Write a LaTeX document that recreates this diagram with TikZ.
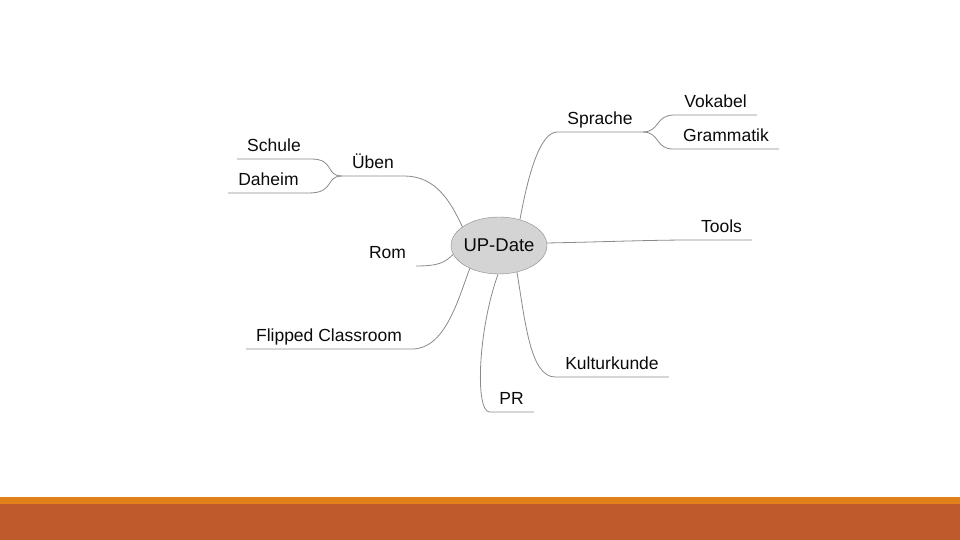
\documentclass[tikz,border=0pt]{standalone}
\usepackage{fontspec}
\setmainfont{Liberation Sans}
\usetikzlibrary{shapes.geometric}

\definecolor{barorange}{HTML}{E08019}
\definecolor{barbrown}{HTML}{BE5A2C}
\definecolor{linegray}{HTML}{8A8A8A}
\definecolor{hubgray}{HTML}{D4D4D4}
\definecolor{inkblack}{HTML}{0A0A0A}

\begin{document}
\begin{tikzpicture}[x=1pt, y=-1pt]
  \tikzstyle{hub} = [ellipse, draw=linegray, fill=hubgray, minimum width=96pt, minimum height=57pt, inner xsep=-4pt, inner ysep=0pt, text=inkblack, font=\fontsize{18.5}{21}\selectfont]
  \tikzstyle{topic} = [anchor=south, inner xsep=10pt, inner ysep=7pt, text depth=0pt, text=inkblack, font=\fontsize{17.5}{20}\selectfont]
  \tikzstyle{branch} = [draw=linegray, line width=0.8pt]

  \useasboundingbox (0,0) rectangle (960,540);

  %%%%%%%%%%%%%%%%%%%%%%%%%%%%%%
  %% bottom bar
  %%%%%%%%%%%%%%%%%%%%%%%%%%%%%%
  \fill[barorange] (0,497) rectangle (960,504);
  \fill[barbrown] (0,504) rectangle (960,540);

  %%%%%%%%%%%%%%%%%%%%%%%%%%%%%%
  %% the mind map
  %%%%%%%%%%%%%%%%%%%%%%%%%%%%%%
  \node[hub] (date) at (499,245.5) {UP-Date};

  \node[topic] (uben) at (373,176) {Üben};
  \node[topic] (schule) at (274,159) {Schule};
  \node[topic] (daheim) at (268.5,193) {Daheim};
  \node[topic] (rom) at (387.5,266) {Rom};
  \node[topic] (flipped) at (329,349) {Flipped Classroom};
  \node[topic] (pr) at (511.5,412) {PR};
  \node[topic] (kultur) at (612,377) {Kulturkunde};
  \node[topic] (tools) at (721.5,240) {Tools};
  \node[topic] (sprache) at (600,132) {Sprache};
  \node[topic] (vokabel) at (715.5,115) {Vokabel};
  \node[topic] (grammatik) at (726,149) {Grammatik};

  % left side
  \draw[branch] (date.153) .. controls (450,200) and (435,176) .. (uben.south east) -- (uben.south west);
  \draw[branch] (uben.south west) .. controls (325,176) and (335,159) .. (schule.south east) -- (schule.south west);
  \draw[branch] (uben.south west) .. controls (325,176) and (335,193) .. (daheim.south east) -- (daheim.south west);
  \draw[branch] (date.191) .. controls (445,262) and (440,266) .. (rom.south east);
  \draw[branch] (date.218) .. controls (458,300) and (445,349) .. (flipped.south east) -- (flipped.south west);

  % bottom
  \draw[branch] (date.268) .. controls (478,330) and (475,410) .. (pr.south west) -- (pr.south east);
  \draw[branch] (date.304) .. controls (525,320) and (530,377) .. (kultur.south west) -- (kultur.south east);

  % right side
  \draw[branch] (date.3) .. controls (600,242) and (650,240) .. (tools.south west) -- (tools.south east);
  \draw[branch] (date.51) .. controls (528,175) and (540,132) .. (sprache.south west) -- (sprache.south east);
  \draw[branch] (sprache.south east) .. controls (660,132) and (655,115) .. (vokabel.south west) -- (vokabel.south east);
  \draw[branch] (sprache.south east) .. controls (660,132) and (655,149) .. (grammatik.south west) -- (grammatik.south east);
\end{tikzpicture}
\end{document}
